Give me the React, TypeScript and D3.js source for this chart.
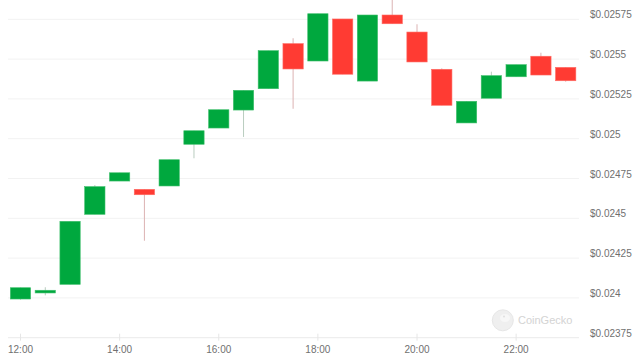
import React from "react";
import * as d3 from "d3";

const times = ["12:00","12:30","13:00","13:30","14:00","14:30","15:00","15:30","16:00","16:30","17:00","17:30","18:00","18:30","19:00","19:30","20:00","20:30","21:00","21:30","22:00","22:30","23:00"];
const opens  = [0.023993,0.024031,0.024085,0.024525,0.024734,0.024682,0.024703,0.024965,0.025067,0.025180,0.025314,0.025597,0.025488,0.025752,0.025362,0.025777,0.025670,0.025436,0.025099,0.025254,0.025389,0.025518,0.025448];
const closes = [0.024064,0.024048,0.024481,0.024699,0.024786,0.024648,0.024868,0.025050,0.025182,0.025304,0.025553,0.025438,0.025785,0.025405,0.025777,0.025722,0.025482,0.025210,0.025235,0.025396,0.025465,0.025400,0.025364];
const highs  = [0.024065,0.024067,0.024481,0.024709,0.024786,0.024682,0.024868,0.025050,0.025182,0.025304,0.025553,0.025631,0.025785,0.025752,0.025777,0.025875,0.025719,0.025442,0.025235,0.025421,0.025465,0.025540,0.025448];
const lows   = [0.023989,0.024016,0.024085,0.024525,0.024734,0.024359,0.024703,0.024877,0.025067,0.025011,0.025314,0.025188,0.025488,0.025405,0.025362,0.025722,0.025482,0.025210,0.025099,0.025254,0.025389,0.025400,0.025358];

const yTicks = [0.02375,0.024,0.02425,0.0245,0.02475,0.025,0.02525,0.0255,0.02575];
const yTickLabels = ["$0.02375","$0.024","$0.02425","$0.0245","$0.02475","$0.025","$0.02525","$0.0255","$0.02575"];
const xTicks = ["12:00","14:00","16:00","18:00","20:00","22:00"];

const W = 640, H = 360;
const UP = "#00a83e", DOWN = "#ff3b33";
const UP_WICK = "#b9cdbf", DOWN_WICK = "#dcb3b3";
const FONT = "'Liberation Sans', Arial, sans-serif";

const toDate = (t: string) => {
  const [h, m] = t.split(":").map(Number);
  return new Date(2024, 0, 1, h, m);
};

export default function App() {
  const x = d3.scaleTime().domain([toDate("12:00"), toDate("23:00")]).range([20.5, 565.7]);
  const y = d3.scaleLinear().domain([0.02375, 0.02575]).range([337.7, 19.3]);
  const bw = 20.3;
  const candles = times.map((t, i) => ({ t: toDate(t), o: opens[i], c: closes[i], h: highs[i], l: lows[i] }));

  return (
    <svg width={W} height={H} style={{ position: "fixed", left: 0, top: 0, background: "#fff" }} fontFamily={FONT}>
      {yTicks.map((v, i) => (
        <g key={v}>
          <line x1={8} x2={579} y1={y(v)} y2={y(v)} stroke={i === 0 ? "#ebebeb" : "#f2f2f2"} strokeWidth={1} />
          <text x={590} y={y(v) - 1} fontSize={10} fill="#707070">{yTickLabels[i]}</text>
        </g>
      ))}
      {xTicks.map((t) => (
        <g key={t}>
          <line x1={x(toDate(t))} x2={x(toDate(t))} y1={y(0.02375) - 4} y2={y(0.02375) + 3} stroke="#e6e6e6" />
          <text x={x(toDate(t))} y={353} fontSize={10} fill="#707070" textAnchor="middle">{t}</text>
        </g>
      ))}
      <g opacity={0.9}>
        <circle cx={502.8} cy={320.3} r={10.5} fill="#eeeeee" stroke="#e4e4e4" />
        <ellipse cx={505} cy={318} rx={5} ry={4} fill="#f7f7f7" />
        <circle cx={504} cy={316.5} r={1} fill="#dcdcdc" />
        <text x={518} y={323.5} fontSize={11} fill="#cfcfcf">CoinGecko</text>
      </g>
      {candles.map((d, i) => {
        const up = d.c >= d.o;
        const cx = x(d.t);
        const top = y(Math.max(d.o, d.c));
        const bot = y(Math.min(d.o, d.c));
        return (
          <g key={i}>
            <line x1={cx} x2={cx} y1={y(d.h)} y2={y(d.l)} stroke={up ? UP_WICK : DOWN_WICK} strokeWidth={1} />
            <rect x={cx - bw / 2} y={top} width={bw} height={Math.max(bot - top, 2)} fill={up ? UP : DOWN} stroke={up ? "#3fbf6c" : "#ff6a63"} strokeWidth={0.6} />
          </g>
        );
      })}
    </svg>
  );
}
